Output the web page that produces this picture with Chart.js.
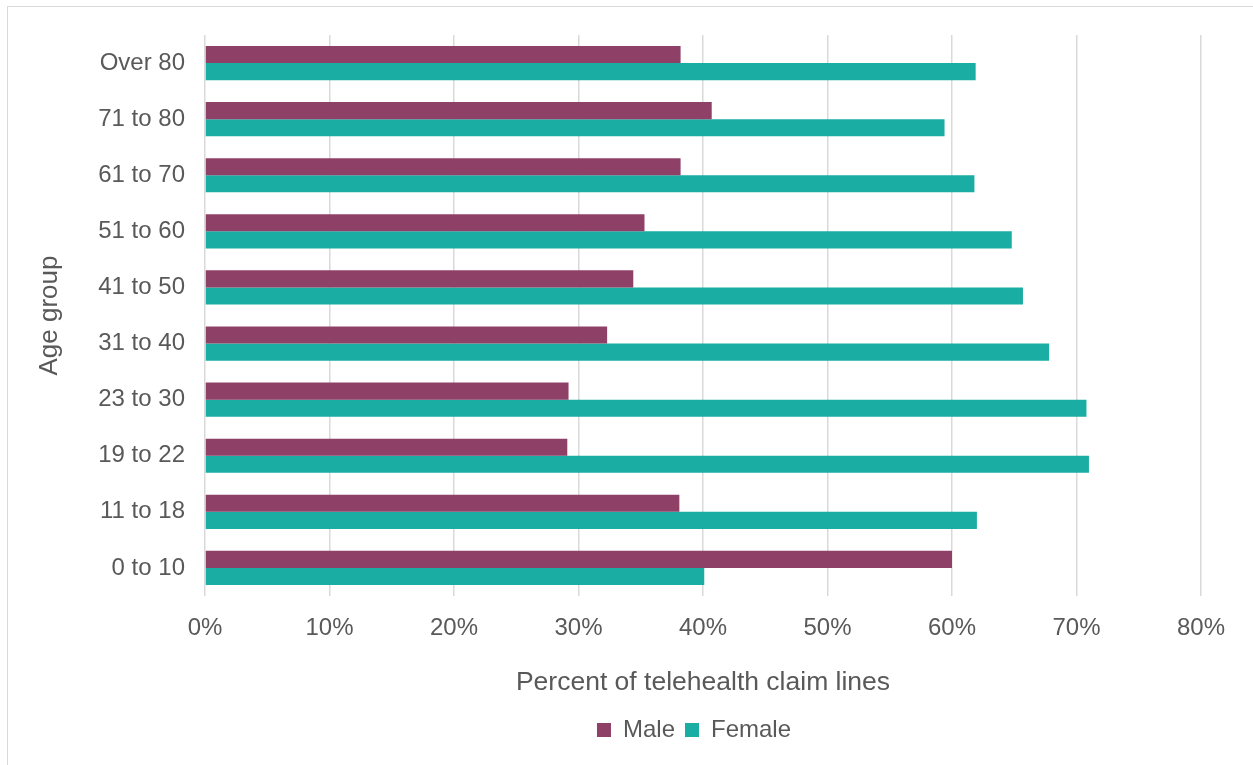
<!DOCTYPE html>
<html>
<head>
<meta charset="utf-8">
<script src="https://cdn.jsdelivr.net/npm/chart.js@4.4.1/dist/chart.umd.min.js"></script>
<style>
  html, body { margin: 0; padding: 0; background: #fff; overflow: hidden; }
  #wrap { position: relative; width: 1253px; height: 765px; }
  #frame { position: absolute; left: 7px; top: 6px; width: 1300px; height: 800px; border: 1px solid #d9d9d9; box-sizing: border-box; }
  #canvas-1 { position: absolute; left: 0; top: 0; }
</style>
</head>
<body>
<div id="wrap">
  <div id="frame"></div>
  <canvas id="canvas-1" width="1253" height="765"></canvas>
</div>
<script>
// age groups, bottom to top as in the picture
var ageGroups = ['0 to 10', '11 to 18', '19 to 22', '23 to 30', '31 to 40',
                 '41 to 50', '51 to 60', '61 to 70', '71 to 80', 'Over 80'];
// percent of telehealth claim lines
var malePct   = [60.0, 38.1, 29.1, 29.2, 32.3, 34.4, 35.3, 38.2, 40.7, 38.2];
var femalePct = [40.1, 62.0, 71.0, 70.8, 67.8, 65.7, 64.8, 61.8, 59.4, 61.9];
var xTicks = [0, 10, 20, 30, 40, 50, 60, 70, 80];

var textColor = '#595959';
var fontFamily = '"Liberation Sans", Arial, sans-serif';

var barChartData = {
    labels: ageGroups,
    datasets: [
        {
            label: 'Male',
            backgroundColor: '#8e4066',
            data: malePct
        },
        {
            label: 'Female',
            backgroundColor: '#1aada4',
            data: femalePct
        }
    ]
};

// the legend sits under the plot area, not the whole canvas
var legendShift = {
    id: 'legendShift',
    afterLayout: function (chart) {
        var lg = chart.legend;
        if (!lg) return;
        var dx = (chart.chartArea.left + chart.chartArea.right) / 2 - 9 - (lg.left + lg.right) / 2;
        lg.left += dx;
        lg.right += dx;
    }
};

var ctx = document.getElementById('canvas-1');
var chart = new Chart(ctx, {
    type: 'bar',
    data: barChartData,
    plugins: [legendShift],
    options: {
        indexAxis: 'y',
        responsive: false,
        animation: false,
        layout: { padding: { left: 30, right: 52, top: 35, bottom: 13 } },
        datasets: { bar: { barPercentage: 1.0, categoryPercentage: 0.61 } },
        plugins: {
            legend: {
                position: 'bottom',
                labels: {
                    color: textColor,
                    font: { family: fontFamily, size: 24 },
                    boxWidth: 14,
                    boxHeight: 14,
                    padding: 10
                }
            },
            tooltip: { enabled: false }
        },
        scales: {
            x: {
                min: 0,
                max: 80,
                afterBuildTicks: function (scale) {
                    scale.ticks = xTicks.map(function (v) { return { value: v }; });
                },
                afterFit: function (scale) { scale.height = 112; },
                grid: { color: '#d9d9d9', lineWidth: 1.5, drawTicks: false },
                border: { display: false },
                ticks: {
                    color: textColor,
                    font: { family: fontFamily, size: 24 },
                    padding: 18,
                    callback: function (v) { return v + '%'; }
                },
                title: {
                    display: true,
                    text: 'Percent of telehealth claim lines',
                    color: textColor,
                    font: { family: fontFamily, size: 26.5 },
                    padding: { top: 0, bottom: 9 }
                }
            },
            y: {
                reverse: true,
                afterFit: function (scale) { scale.width = 175; },
                grid: { display: false, drawTicks: false },
                border: { display: false },
                ticks: {
                    color: textColor,
                    font: { family: fontFamily, size: 24 },
                    padding: 20
                },
                title: {
                    display: true,
                    text: 'Age group',
                    color: textColor,
                    font: { family: fontFamily, size: 26 },
                    padding: { top: 4, bottom: 0 }
                }
            }
        }
    }
});
</script>
</body>
</html>
